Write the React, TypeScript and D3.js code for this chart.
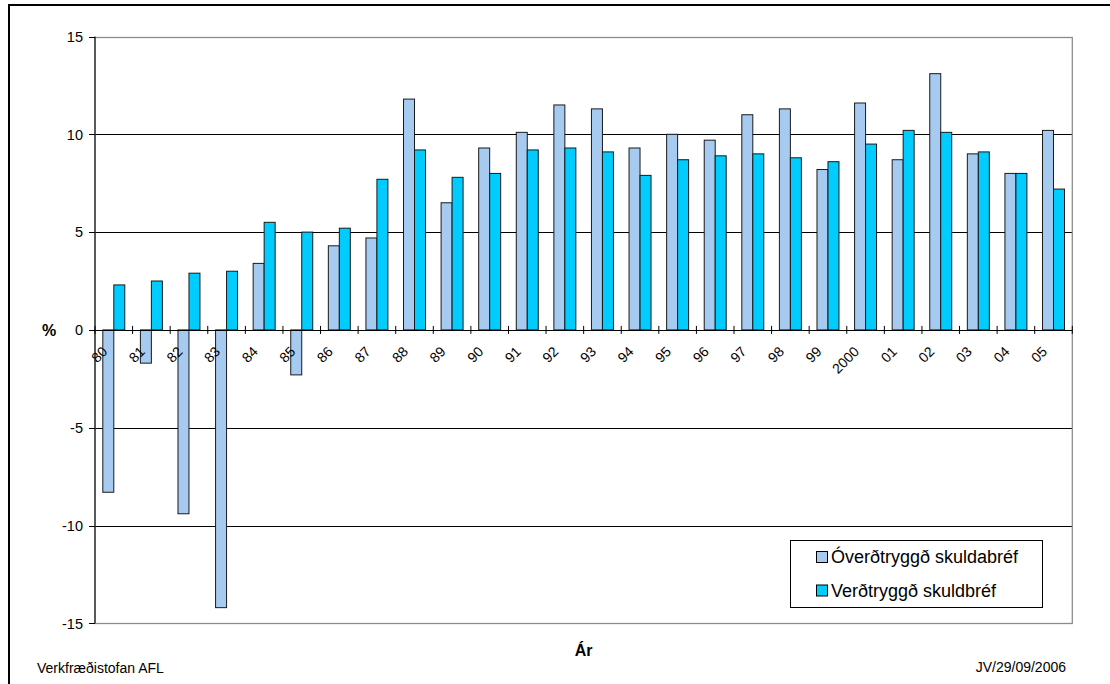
import React from "react";
import * as d3 from "d3";

const years = ["80","81","82","83","84","85","86","87","88","89","90","91","92","93","94","95","96","97","98","99","2000","01","02","03","04","05"];
const overdtryggd = [-8.3,-1.7,-9.4,-14.2,3.4,-2.3,4.3,4.7,11.8,6.5,9.3,10.1,11.5,11.3,9.3,10.0,9.7,11.0,11.3,8.2,11.6,8.7,13.1,9.0,8.0,10.2];
const verdtryggd = [2.3,2.5,2.9,3.0,5.5,5.0,5.2,7.7,9.2,7.8,8.0,9.2,9.3,9.1,7.9,8.7,8.9,9.0,8.8,8.6,9.5,10.2,10.1,9.1,8.0,7.2];
const seriesNames = ["Óverðtryggð skuldabréf", "Verðtryggð skuldbréf"];
const seriesColors = ["#A6CAF0", "#00CCFF"];
const yTicks = [-15,-10,-5,0,5,10,15];

const FONT = "'Liberation Sans', Arial, sans-serif";

export default function App() {
  const W = 1110, H = 684;
  const left = 95, right = 1072.3, top = 36.5, bottom = 623.3;
  const x0 = d3.scaleBand<string>().domain(years).range([left, right]).padding(0);
  const x1 = d3.scaleBand<number>().domain([0, 1]).range([0, x0.bandwidth()]).paddingInner(0).paddingOuter(0.71);
  const y = d3.scaleLinear().domain([-15, 15]).range([bottom, top]);
  const data = [overdtryggd, verdtryggd];
  const y0 = y(0);

  return (
    <svg width={W} height={H} style={{ position: "absolute", left: 0, top: 0, background: "#fff" }} fontFamily={FONT}>
      <rect x={0} y={0} width={W} height={H} fill="#fff" />
      {/* outer frame */}
      <rect x={9} y={5} width={1200} height={800} fill="none" stroke="#000" strokeWidth={2} />
      {/* gridlines */}
      {yTicks.filter(t => t !== 0 && t !== 15 && t !== -15).map(t => (
        <line key={t} x1={left} x2={right} y1={Math.round(y(t)) + 0.5} y2={Math.round(y(t)) + 0.5} stroke="#000" strokeWidth={1} />
      ))}
      {/* plot area border */}
      <rect x={left} y={Math.round(top) + 0.5} width={right - left} height={Math.round(bottom) - Math.round(top)} fill="none" stroke="#8c8c8c" strokeWidth={1.3} />
      {/* bars */}
      {data.map((vals, si) => vals.map((v, i) => {
        const bx = (x0(years[i]) as number) + (x1(si) as number);
        const yv = y(v);
        return (
          <rect key={`${si}-${i}`} x={bx} y={Math.min(yv, y0)} width={x1.bandwidth()} height={Math.abs(yv - y0)}
            fill={seriesColors[si]} stroke="#1a1a1a" strokeWidth={1} />
        );
      }))}
      {/* y axis */}
      <line x1={left} x2={left} y1={top} y2={bottom} stroke="#000" strokeWidth={1} />
      {yTicks.map(t => (
        <g key={t}>
          <line x1={left - 6} x2={left} y1={Math.round(y(t)) + 0.5} y2={Math.round(y(t)) + 0.5} stroke="#000" />
          <text x={83} y={y(t)} dy="0.36em" textAnchor="end" fontSize={14.5} fill="#000">{t}</text>
        </g>
      ))}
      {/* x axis at zero */}
      <line x1={left} x2={right} y1={Math.round(y0) + 0.5} y2={Math.round(y0) + 0.5} stroke="#000" strokeWidth={1} />
      {years.map(yr => {
        const xs = (x0(yr) as number);
        return <line key={yr} x1={xs} x2={xs} y1={y0 - 4} y2={y0 + 4} stroke="#000" />;
      })}
      <line x1={right} x2={right} y1={y0 - 4} y2={y0 + 4} stroke="#000" />
      {/* category labels */}
      {years.map(yr => {
        const cx = (x0(yr) as number) + x0.bandwidth() / 2;
        return (
          <g key={yr} transform={`translate(${(cx - 5.5).toFixed(2)} ${(y0 + 22.5).toFixed(2)})`}>
            <text transform="rotate(-45)" x={0} y={0} textAnchor="end" fontSize={14} fill="#000">{yr}</text>
          </g>
        );
      })}
      {/* axis titles */}
      <text x={49} y={y0} dy="0.36em" textAnchor="middle" fontSize={16} fontWeight="bold">%</text>
      <text x={(left + right) / 2} y={656} textAnchor="middle" fontSize={16} fontWeight="bold">Ár</text>
      {/* legend */}
      <rect x={790.5} y={540.5} width={252} height={67} fill="#fff" stroke="#000" strokeWidth={1} />
      {seriesNames.map((n, i) => (
        <g key={n}>
          <rect x={816.5} y={551.5 + i * 33.5} width={11} height={11} fill={seriesColors[i]} stroke="#000" />
          <text x={831} y={557 + i * 33.5} dy="0.36em" fontSize={18} fill="#000">{n}</text>
        </g>
      ))}
      {/* footer */}
      <text x={37} y={673} fontSize={14} fill="#000">Verkfræðistofan AFL</text>
      <text x={1066} y={672} textAnchor="end" fontSize={14} fill="#000">JV/29/09/2006</text>
    </svg>
  );
}
